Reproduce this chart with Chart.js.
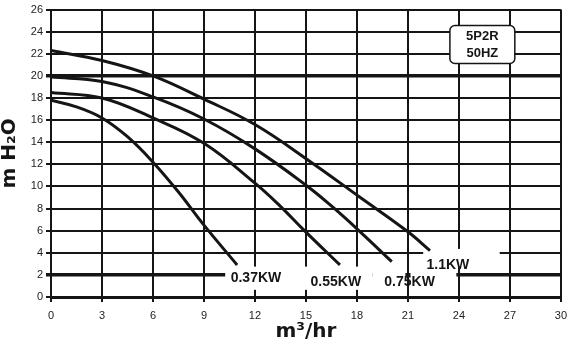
<!DOCTYPE html>
<html>
<head>
<meta charset="utf-8">
<script src="https://cdn.jsdelivr.net/npm/chart.js@4"></script>
<style>
  html, body { margin: 0; padding: 0; background: #fff; }
  #wrap { width: 574px; height: 348px; }
</style>
</head>
<body>
<div id="wrap"><canvas id="pumpChart" width="574" height="348"></canvas></div>
<script>
// pump performance curves: flow (m3/hr) against head (m H2O), one curve per motor
const motors = ['0.37KW', '0.55KW', '0.75KW', '1.1KW'];
const modelName = ['5P2R', '50HZ'];

const flow037 = [0, 1.5, 3, 4.5, 6, 7.5, 9, 10.95];
const head037 = [17.8, 17.2, 16.2, 14.5, 12.2, 9.5, 6.5, 2.9];

const flow055 = [0, 3, 6, 9, 12, 13.5, 14.85, 17];
const head055 = [18.5, 18.0, 16.2, 13.9, 10.3, 8.2, 6.1, 2.9];

const flow075 = [0, 3, 6, 9, 12, 15.1, 16.6, 18.05, 20.05];
const head075 = [19.9, 19.5, 18.1, 16.1, 13.4, 10.0, 8.1, 6.1, 3.2];

const flow110 = [0, 3, 6, 9, 12, 15.3, 18.2, 21, 22.3];
const head110 = [22.3, 21.4, 20.0, 17.9, 15.6, 12.2, 9.0, 5.9, 4.2];

const xTicks = [0, 3, 6, 9, 12, 15, 18, 21, 24, 27, 30];
const yTicks = [0, 2, 4, 6, 8, 10, 12, 14, 16, 18, 20, 22, 24, 26];

const ink = '#151515';

function toPoints(xs, ys) {
    let pts = [];
    for (let i = 0; i < xs.length; i++) {
        pts.push({x: xs[i], y: ys[i]});
    }
    return pts;
}

function curve(label, xs, ys) {
    return {
        label: label,
        data: toPoints(xs, ys),
        borderColor: ink,
        borderWidth: 3,
        pointRadius: 0,
        fill: false,
        tension: 0.4
    };
}

// white patches behind the motor labels, the model box and the labels themselves
const overlay = {
    id: 'overlay',
    beforeDatasetsDraw(chart) {
        const {ctx, scales: {x, y}} = chart;
        const blank = (x0, y0, x1, y1) => {
            const l = x.getPixelForValue(x0), r = x.getPixelForValue(x1);
            const t = y.getPixelForValue(y1), b = y.getPixelForValue(y0);
            ctx.fillRect(l, t, r - l, b - t);
        };
        ctx.save();
        ctx.fillStyle = '#fff';
        blank(10.25, 0.65, 18.9, 2.75);
        blank(18.9, 1.6, 20.85, 2.6);
        blank(21.15, 1.6, 23.85, 2.6);
        blank(21.9, 2.75, 26.4, 4.35);

        // model box
        const bl = x.getPixelForValue(23.47), br = x.getPixelForValue(27.29);
        const bt = y.getPixelForValue(24.56), bb = y.getPixelForValue(21.12);
        ctx.beginPath();
        ctx.roundRect(bl, bt, br - bl, bb - bt, 5);
        ctx.fill();
        ctx.lineWidth = 1.5;
        ctx.strokeStyle = ink;
        ctx.stroke();
        ctx.fillStyle = ink;
        ctx.font = 'bold 13px "Liberation Sans", Arial, sans-serif';
        ctx.textAlign = 'center';
        ctx.textBaseline = 'middle';
        const cx = (bl + br) / 2, cy = (bt + bb) / 2;
        ctx.fillText(modelName[0], cx, cy - 8);
        ctx.fillText(modelName[1], cx, cy + 9);
        ctx.restore();
    },
    afterDatasetsDraw(chart) {
        const {ctx, scales: {x, y}} = chart;
        const spots = [[12.06, 1.72], [16.76, 1.35], [21.1, 1.35], [23.35, 2.9]];
        ctx.save();
        ctx.fillStyle = ink;
        ctx.font = 'bold 14px "Liberation Sans", Arial, sans-serif';
        ctx.textAlign = 'center';
        ctx.textBaseline = 'middle';
        for (let i = 0; i < motors.length; i++) {
            ctx.fillText(motors[i], x.getPixelForValue(spots[i][0]), y.getPixelForValue(spots[i][1]));
        }
        ctx.restore();
    }
};

new Chart(document.getElementById('pumpChart'), {
    type: 'line',
    data: {
        datasets: [
            curve(motors[0], flow037, head037),
            curve(motors[1], flow055, head055),
            curve(motors[2], flow075, head075),
            curve(motors[3], flow110, head110)
        ]
    },
    options: {
        responsive: false,
        animation: false,
        layout: {
            padding: {top: 9, right: 13, bottom: 0, left: 0}
        },
        plugins: {
            legend: {display: false},
            tooltip: {enabled: false}
        },
        scales: {
            x: {
                type: 'linear',
                min: 0,
                max: 30,
                afterBuildTicks: (scale) => { scale.ticks = xTicks.map(v => ({value: v})); },
                afterFit: (scale) => { scale.height = 51; },
                grid: {
                    color: ink,
                    lineWidth: 2,
                    tickLength: 5,
                    tickColor: ink
                },
                border: {color: ink, width: 3},
                ticks: {
                    color: '#222',
                    padding: 7,
                    maxRotation: 0,
                    font: {family: '"Liberation Sans", Arial, sans-serif', size: 11}
                },
                title: {
                    display: true,
                    text: 'm³/hr',
                    color: ink,
                    padding: {top: 0, bottom: 6},
                    font: {family: '"DejaVu Sans", sans-serif', size: 20, weight: 'bold', lineHeight: 1}
                }
            },
            y: {
                type: 'linear',
                min: 0,
                max: 26,
                afterBuildTicks: (scale) => { scale.ticks = yTicks.map(v => ({value: v})); },
                afterFit: (scale) => { scale.width = 51; },
                grid: {
                    color: ink,
                    lineWidth: (c) => (c.tick && (c.tick.value === 20 || c.tick.value === 2)) ? 3.5 : 2,
                    tickLength: 5,
                    tickColor: ink
                },
                border: {color: ink, width: 2},
                ticks: {
                    color: '#222',
                    padding: 3,
                    font: {family: '"Liberation Sans", Arial, sans-serif', size: 11}
                },
                title: {
                    display: true,
                    text: 'm H₂O',
                    color: ink,
                    padding: {top: 0, bottom: 0},
                    font: {family: '"DejaVu Sans", sans-serif', size: 20, weight: 'bold', lineHeight: 1}
                }
            }
        }
    },
    plugins: [overlay]
});
</script>
</body>
</html>
